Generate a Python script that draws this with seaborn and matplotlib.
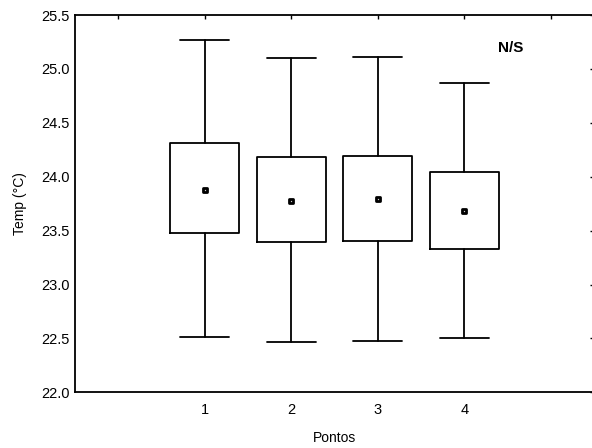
import matplotlib
matplotlib.use("Agg")
import matplotlib.pyplot as plt
import seaborn as sns
import pandas as pd

# Temperature summary per sampling point
pontos = [1, 2, 3, 4]
media = [23.88, 23.77, 23.79, 23.68]
caixa_inf = [23.48, 23.39, 23.40, 23.33]
caixa_sup = [24.31, 24.18, 24.19, 24.04]
minimo = [22.51, 22.47, 22.48, 22.50]
maximo = [25.27, 25.10, 25.11, 24.87]

sns.set_theme(style="white")
plt.rcParams["font.family"] = ["Liberation Sans", "DejaVu Sans"]

fig = plt.figure(figsize=(5.92, 4.48), dpi=100)
ax = fig.add_axes([75 / 592, 55.7 / 448, 519 / 592, 377.3 / 448])

stats = [
    dict(med=m, q1=lo, q3=hi, whislo=wl, whishi=wh, fliers=[], label=str(p))
    for p, m, lo, hi, wl, wh in zip(pontos, media, caixa_inf, caixa_sup, minimo, maximo)
]
line = dict(color="black", linewidth=1.3)
ax.bxp(stats, positions=pontos, widths=0.8, showfliers=False,
       boxprops=line, whiskerprops=line, capprops=line,
       medianprops=dict(linewidth=0), capwidths=0.57)

df = pd.DataFrame({"Pontos": pontos, "Temp": media})
sns.scatterplot(data=df, x="Pontos", y="Temp", ax=ax, marker="s", s=10,
                color="#c8c8c8", edgecolor="black", linewidth=2.0, zorder=5)

ax.set_xlim(-0.5, 5.5)
ax.set_ylim(22.0, 25.5)
ax.set_xticks([0, 1, 2, 3, 4, 5])
ax.set_xticklabels(["", "1", "2", "3", "4", ""])
ax.set_yticks([22.0, 22.5, 23.0, 23.5, 24.0, 24.5, 25.0, 25.5])
ax.set_yticklabels([f"{v:.1f}" for v in [22.0, 22.5, 23.0, 23.5, 24.0, 24.5, 25.0, 25.5]])
ax.tick_params(axis="both", direction="in", length=3, width=1, color="black",
               labelsize=10.5, labelcolor="black", top=True, right=True)
ax.tick_params(axis="y", left=False, pad=4)
ax.tick_params(axis="x", pad=8)
for sp in ax.spines.values():
    sp.set_color("black")
    sp.set_linewidth(1.3)

ax.set_xlabel("Pontos", fontsize=10, color="black", labelpad=10)
ax.set_ylabel("Temp (°C)", fontsize=10, color="black", labelpad=10)
ax.text(0.815, 0.902, "N/S", transform=ax.transAxes, fontsize=11,
        fontweight="bold", color="black")

fig.savefig("out.png", dpi=100)
